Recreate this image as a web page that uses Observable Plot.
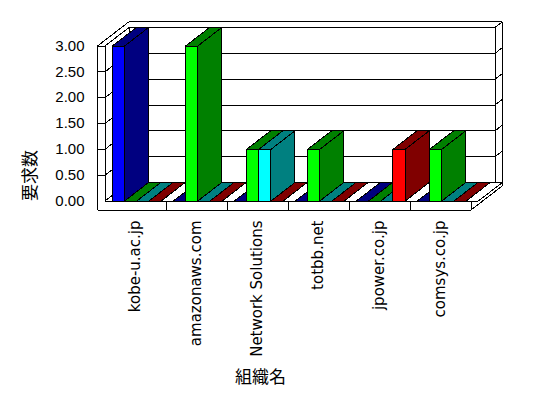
<!DOCTYPE html>
<html><head><meta charset="utf-8">
<script src="https://cdn.jsdelivr.net/npm/d3@7"></script>
<script src="https://cdn.jsdelivr.net/npm/@observablehq/plot@0.6"></script>
<style>html,body{margin:0;padding:0;background:#fff;overflow:hidden}</style>
</head><body><div id="chart"></div>
<script>
// ---- data ----
const categories = ["kobe-u.ac.jp", "amazonaws.com", "Network Solutions", "totbb.net", "jpower.co.jp", "comsys.co.jp"];
const seriesBlue  = [3, 0, 0, 0, 0, 0];
const seriesGreen = [0, 3, 1, 1, 0, 1];
const seriesCyan  = [0, 0, 1, 0, 0, 0];
const seriesRed   = [0, 0, 0, 0, 1, 0];
const seriesWhite = [0, 0, 0, 0, 0, 0];
const seriesValues = [seriesBlue, seriesGreen, seriesCyan, seriesRed, seriesWhite];
const frontColors = ["#0000ff", "#00ff00", "#00ffff", "#ff0000", "#ffffff"];
const darkColors  = ["#000080", "#008000", "#008080", "#800000", "#ffffff"];
const yTicks = [0, 0.5, 1, 1.5, 2, 2.5, 3];
const yTickLabels = ["0.00", "0.50", "1.00", "1.50", "2.00", "2.50", "3.00"];
const gridValues = [0.5, 1, 1.5, 2, 2.5];
const xTitle = "組織名";
const yTitle = "要求数";

// ---- layout / 3D style ----
const W = 548, H = 398;
const ML = 104.5, MR = 77.5, MT = 45.5, MB = 197.5;
const nCat = categories.length, yMax = 3;
const pxX = (W - ML - MR) / nCat;
const pxY = (H - MT - MB) / yMax;
const DX = 24 / pxX, DY = 18.5 / pxY;   // full depth offset in data units
const wallT = 7.5 / pxX;                 // left wall thickness
const floorT = 9 / pxY;                  // floor thickness
const backT = 0.3;                       // back wall thickness (depth fraction)
const barOff = 0.121, slotW = 0.2;

const P = (x, v, d) => [x + d * DX, v + d * DY];

const wallFaces = [
  {id: "floorTop", fill: "#fff", pts: [P(0,0,0), P(nCat,0,0), P(nCat,0,1+backT), P(0,0,1+backT)]},
  {id: "backFace", fill: "#fff", pts: [P(0,0,1), P(nCat,0,1), P(nCat,yMax,1), P(0,yMax,1)]},
  {id: "rightFace", fill: "#fff", pts: [P(nCat,0,0), P(nCat,-floorT,0), P(nCat,-floorT,1+backT), P(nCat,yMax,1+backT), P(nCat,yMax,1), P(nCat,0,1)]},
  {id: "leftInner", fill: "#fff", pts: [P(0,0,0), P(0,0,1), P(0,yMax,1), P(0,yMax,0)]},
  {id: "topFace", fill: "#fff", pts: [P(-wallT,yMax,0), P(0,yMax,0), P(0,yMax,1), P(nCat,yMax,1), P(nCat,yMax,1+backT), P(-wallT,yMax,1+backT)]},
  {id: "frontFace", fill: "#fff", pts: [P(-wallT,-floorT,0), P(nCat,-floorT,0), P(nCat,0,0), P(0,0,0), P(0,yMax,0), P(-wallT,yMax,0)]}
];

const barFaces = [];
categories.forEach((c, i) => {
  seriesValues.forEach((vals, j) => {
    const h = vals[i];
    const s = i + barOff + j * slotW, e = s + slotW;
    const id = `b${i}-${j}`;
    if (h > 0) barFaces.push({id: id + "s", fill: darkColors[j], pts: [P(e,0,0), P(e,0,1), P(e,h,1), P(e,h,0)]});
    barFaces.push({id: id + "t", fill: darkColors[j], pts: [P(s,h,0), P(e,h,0), P(e,h,1), P(s,h,1)]});
    if (h > 0) barFaces.push({id: id + "f", fill: frontColors[j], pts: [P(s,0,0), P(e,0,0), P(e,h,0), P(s,h,0)]});
  });
});

const flat = (faces) => faces.flatMap(f => f.pts.map(([x, y]) => ({id: f.id, fill: f.fill, x, y})));
const gridRows = gridValues.flatMap(v => [P(-wallT,v,0), P(0,v,0), P(0,v,1), P(nCat,v,1), P(nCat,v,1+backT)].map(([x, y]) => ({v, x, y})));
const separators = d3.range(1, nCat);

const polyOpts = {x: "x", y: "y", z: "id", fill: "fill", stroke: "black", strokeWidth: 1, curve: "linear-closed", strokeLinejoin: "miter", shapeRendering: "crispEdges"};

const chart = Plot.plot({
  width: W, height: H,
  marginLeft: ML, marginRight: MR, marginTop: MT, marginBottom: MB,
  x: {domain: [0, nCat], axis: null},
  y: {domain: [0, yMax], axis: null},
  color: {type: "identity"},
  style: {background: "white", fontFamily: "DejaVu Sans", color: "black"},
  marks: [
    Plot.line(flat(wallFaces), polyOpts),
    Plot.line(gridRows, {x: "x", y: "y", z: "v", stroke: "black", strokeWidth: 1, strokeLinejoin: "miter", shapeRendering: "crispEdges"}),
    Plot.ruleX(separators, {x: d => d, y1: -floorT, y2: 0, stroke: "black", strokeWidth: 1, shapeRendering: "crispEdges"}),
    Plot.line(flat(barFaces), polyOpts),
    Plot.text(yTicks, {x: -wallT, y: d => d, text: (d, i) => yTickLabels[i], textAnchor: "end", dx: -13, fontSize: 15, fontFamily: "Liberation Sans", fill: "black"}),
    Plot.text(categories, {x: (d, i) => i + 0.5, y: -floorT, text: d => d, rotate: -90, textAnchor: "end", dy: 10.5, fontSize: 15, fontFamily: "DejaVu Sans", fill: "black"}),
    Plot.text([xTitle], {frameAnchor: "bottom", text: d => d, dx: -27.5, dy: 176.5, lineAnchor: "middle", fontSize: 17, fontFamily: "Noto Sans CJK JP", fill: "black"}),
    Plot.text([yTitle], {frameAnchor: "left", text: d => d, rotate: -90, textAnchor: "middle", lineAnchor: "middle", dx: -74.5, dy: 52, fontSize: 17, fontFamily: "Noto Sans CJK JP", fill: "black"})
  ]
});
document.getElementById("chart").appendChild(chart);
</script>
</body></html>
